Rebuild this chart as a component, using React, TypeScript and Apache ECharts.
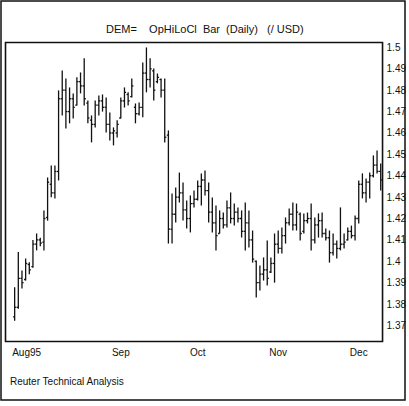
import React, { useEffect, useRef } from "react";
import * as echarts from "echarts";

// Daily OHLC bars, DEM= (per USD), late Jul 1995 to early Dec 1995
const firstCategory = "1995-07-20";
const leadingBlank = 2;

const opens = [
  1.374, 1.3785, 1.392, 1.3915, 1.3985, 1.3975, 1.408, 1.41, 1.409, 1.4205,
  1.436, 1.432, 1.442, 1.476, 1.48, 1.47, 1.476, 1.473, 1.484, 1.482,
  1.474, 1.466, 1.464, 1.473, 1.475, 1.472, 1.464, 1.46, 1.46, 1.467,
  1.475, 1.478, 1.477, 1.472, 1.469, 1.472, 1.488, 1.485, 1.489, 1.484,
  1.485, 1.48, 1.459, 1.415, 1.422, 1.43, 1.432, 1.424, 1.42, 1.427,
  1.429, 1.435, 1.438, 1.433, 1.423, 1.418, 1.413, 1.42, 1.417, 1.425,
  1.42, 1.423, 1.42, 1.414, 1.418, 1.41, 1.4, 1.39, 1.394, 1.396,
  1.395, 1.399, 1.408, 1.406, 1.412, 1.418, 1.422, 1.417, 1.422, 1.414,
  1.419, 1.42, 1.41, 1.417, 1.419, 1.413, 1.411, 1.404, 1.408, 1.406,
  1.408, 1.41, 1.414, 1.412, 1.42, 1.436, 1.432, 1.437, 1.44, 1.445,
  1.442,
];
const highs = [
  1.3879, 1.4043, 1.3957, 1.4013, 1.3995, 1.41, 1.413, 1.411, 1.4238, 1.4392,
  1.4448, 1.4448, 1.4799, 1.4892, 1.4855, 1.4813, 1.4785, 1.486, 1.4883, 1.4949,
  1.4752, 1.4682, 1.4752, 1.4775, 1.478, 1.4766, 1.4696, 1.4626, 1.4659, 1.4766,
  1.4813, 1.479, 1.4855, 1.4738, 1.4743, 1.493, 1.5, 1.4949, 1.4902, 1.4878,
  1.4855, 1.4855, 1.4612, 1.4317, 1.4345, 1.4415, 1.4369, 1.4284, 1.4308, 1.4331,
  1.4378, 1.4411, 1.4425, 1.4369, 1.4298, 1.4261, 1.4238, 1.4228, 1.4284, 1.4322,
  1.427, 1.4252, 1.4238, 1.4275, 1.4238, 1.4144, 1.4004, 1.398, 1.4018, 1.4097,
  1.4018, 1.413, 1.4144, 1.4158, 1.4205, 1.4247, 1.4275, 1.427, 1.4228, 1.4224,
  1.4228, 1.427, 1.4205, 1.4224, 1.4228, 1.4153, 1.4144, 1.413, 1.4097, 1.4252,
  1.413, 1.4158, 1.4167, 1.4214, 1.4378, 1.4411, 1.4387, 1.4415, 1.4495, 1.4518,
  1.4457,
];
const lows = [
  1.3722, 1.3778, 1.3873, 1.391, 1.394, 1.397, 1.4051, 1.407, 1.4051, 1.419,
  1.43, 1.4294, 1.4378, 1.4682, 1.4621, 1.4645, 1.4668, 1.4729, 1.4785, 1.4729,
  1.4645, 1.4556, 1.4626, 1.4682, 1.47, 1.4602, 1.4565, 1.4542, 1.4579, 1.4668,
  1.4719, 1.4729, 1.4766, 1.4645, 1.4682, 1.4673, 1.479, 1.4813, 1.4752, 1.4832,
  1.4766, 1.4556, 1.4083, 1.4083, 1.4181, 1.4275, 1.4191, 1.4153, 1.4135, 1.4252,
  1.4284, 1.4261, 1.4308, 1.4181, 1.4135, 1.4051, 1.413, 1.4153, 1.4158, 1.4177,
  1.4167, 1.4181, 1.4111, 1.4051, 1.4065, 1.3994, 1.3831, 1.3864, 1.391, 1.3887,
  1.3945, 1.39, 1.4036, 1.4036, 1.4083, 1.4167, 1.4144, 1.4144, 1.4097, 1.413,
  1.4177, 1.4051, 1.4083, 1.4111, 1.4111, 1.4097, 1.3994, 1.4027, 1.4013, 1.4051,
  1.406, 1.4097, 1.4107, 1.4097, 1.4177, 1.4294, 1.4275, 1.4294, 1.4392, 1.4411,
  1.4331,
];
const closes = [
  1.3785, 1.392, 1.39, 1.399, 1.396, 1.408, 1.41, 1.4085, 1.42, 1.437,
  1.432, 1.442, 1.476, 1.48, 1.47, 1.476, 1.472, 1.484, 1.482, 1.476,
  1.467, 1.464, 1.473, 1.475, 1.472, 1.464, 1.46, 1.461, 1.464, 1.475,
  1.479, 1.475, 1.482, 1.469, 1.472, 1.488, 1.485, 1.49, 1.48, 1.486,
  1.48, 1.458, 1.415, 1.422, 1.43, 1.432, 1.424, 1.42, 1.427, 1.429,
  1.435, 1.438, 1.433, 1.423, 1.418, 1.412, 1.42, 1.417, 1.425, 1.42,
  1.423, 1.42, 1.414, 1.418, 1.41, 1.401, 1.39, 1.394, 1.396, 1.392,
  1.399, 1.408, 1.406, 1.412, 1.418, 1.422, 1.417, 1.423, 1.413, 1.419,
  1.42, 1.41, 1.417, 1.419, 1.413, 1.411, 1.404, 1.408, 1.406, 1.408,
  1.409, 1.414, 1.412, 1.42, 1.436, 1.432, 1.437, 1.44, 1.445, 1.442,
  1.438,
];

const yTickValues = [1.37, 1.38, 1.39, 1.4, 1.41, 1.42, 1.43, 1.44, 1.45, 1.46, 1.47, 1.48, 1.49, 1.5];
const monthLabels: Record<string, string> = {
  "1995-08-01": "Aug95",
  "1995-09-01": "Sep",
  "1995-10-02": "Oct",
  "1995-11-01": "Nov",
  "1995-12-01": "Dec",
};

const titleText = "DEM=\u00a0\u00a0\u00a0\u00a0OpHiLoCl\u00a0\u00a0Bar\u00a0\u00a0(Daily)\u00a0\u00a0\u00a0(/ USD)";
const footerText = "Reuter Technical Analysis";

function weekdays(start: string, n: number): string[] {
  const out: string[] = [];
  let t = new Date(start + "T00:00:00Z").getTime();
  while (out.length < n) {
    const d = new Date(t);
    const wd = d.getUTCDay();
    if (wd !== 0 && wd !== 6) out.push(d.toISOString().slice(0, 10));
    t += 86400000;
  }
  return out;
}

const FONT = "'Liberation Sans', Arial, sans-serif";

export default function App() {
  const ref = useRef<HTMLDivElement>(null);
  useEffect(() => {
    document.body.style.margin = "0";
    if (!ref.current) return;
    const chart = echarts.init(ref.current, null, { renderer: "svg" });
    const categories = weekdays(firstCategory, leadingBlank + opens.length);
    const data = opens.map((o, i) => [categories[i + leadingBlank], o, highs[i], lows[i], closes[i]]);

    chart.setOption({
      animation: false,
      backgroundColor: "#fff",
      title: {
        text: titleText,
        left: 101,
        top: 18,
        textStyle: { fontSize: 11, fontWeight: "normal", color: "#111", fontFamily: FONT },
      },
      grid: {
        left: 5.5,
        right: 25.5,
        top: 42.5,
        bottom: 64.5,
        show: true,
        borderColor: "#111",
        borderWidth: 1.6,
        backgroundColor: "transparent",
      },
      xAxis: {
        type: "category",
        data: categories,
        boundaryGap: true,
        axisLine: { show: false },
        axisTick: { show: false },
        splitLine: { show: false },
        axisLabel: {
          interval: (_i: number, v: string) => v in monthLabels,
          formatter: (v: string) => (v === "1995-08-01" ? "{s|" + monthLabels[v] + "}" : monthLabels[v] || ""),
          rich: { s: { padding: [0, 20, 0, 0], fontSize: 10, color: "#111", fontFamily: FONT } },
          margin: 6,
          fontSize: 10,
          color: "#111",
          fontFamily: FONT,
        },
      },
      yAxis: {
        type: "value",
        position: "right",
        min: 1.3625,
        max: 1.5023,
        axisLine: { show: false },
        axisTick: { show: false },
        splitLine: { show: false },
        axisLabel: {
          customValues: yTickValues,
          formatter: (v: number) => String(parseFloat(v.toFixed(2))),
          margin: 4,
          fontSize: 10,
          color: "#111",
          fontFamily: FONT,
        },
      },
      series: [
        {
          type: "custom",
          data,
          encode: { x: 0, y: [1, 2, 3, 4] },
          renderItem: (_params: any, api: any) => {
            const x = api.value(0);
            const pO = api.coord([x, api.value(1)]);
            const pH = api.coord([x, api.value(2)]);
            const pL = api.coord([x, api.value(3)]);
            const pC = api.coord([x, api.value(4)]);
            const w = 1.6;
            const style = { stroke: "#111", lineWidth: 1.3 };
            return {
              type: "group",
              children: [
                { type: "line", shape: { x1: pH[0], y1: pH[1], x2: pL[0], y2: pL[1] }, style },
                { type: "line", shape: { x1: pO[0] - w, y1: pO[1], x2: pO[0], y2: pO[1] }, style },
                { type: "line", shape: { x1: pC[0], y1: pC[1], x2: pC[0] + w, y2: pC[1] }, style },
              ],
            };
          },
        },
      ],
      graphic: [
        {
          type: "rect",
          shape: { x: 1, y: 1, width: 404, height: 399 },
          style: { fill: "none", stroke: "#111", lineWidth: 1.5 },
          silent: true,
        },
        {
          type: "text",
          left: 10,
          top: 376,
          style: { text: footerText, fontSize: 10, fill: "#111", fontFamily: FONT },
        },
      ],
    });
    return () => chart.dispose();
  }, []);
  return <div ref={ref} style={{ position: "absolute", left: 0, top: 0, width: 409, height: 406 }} />;
}
